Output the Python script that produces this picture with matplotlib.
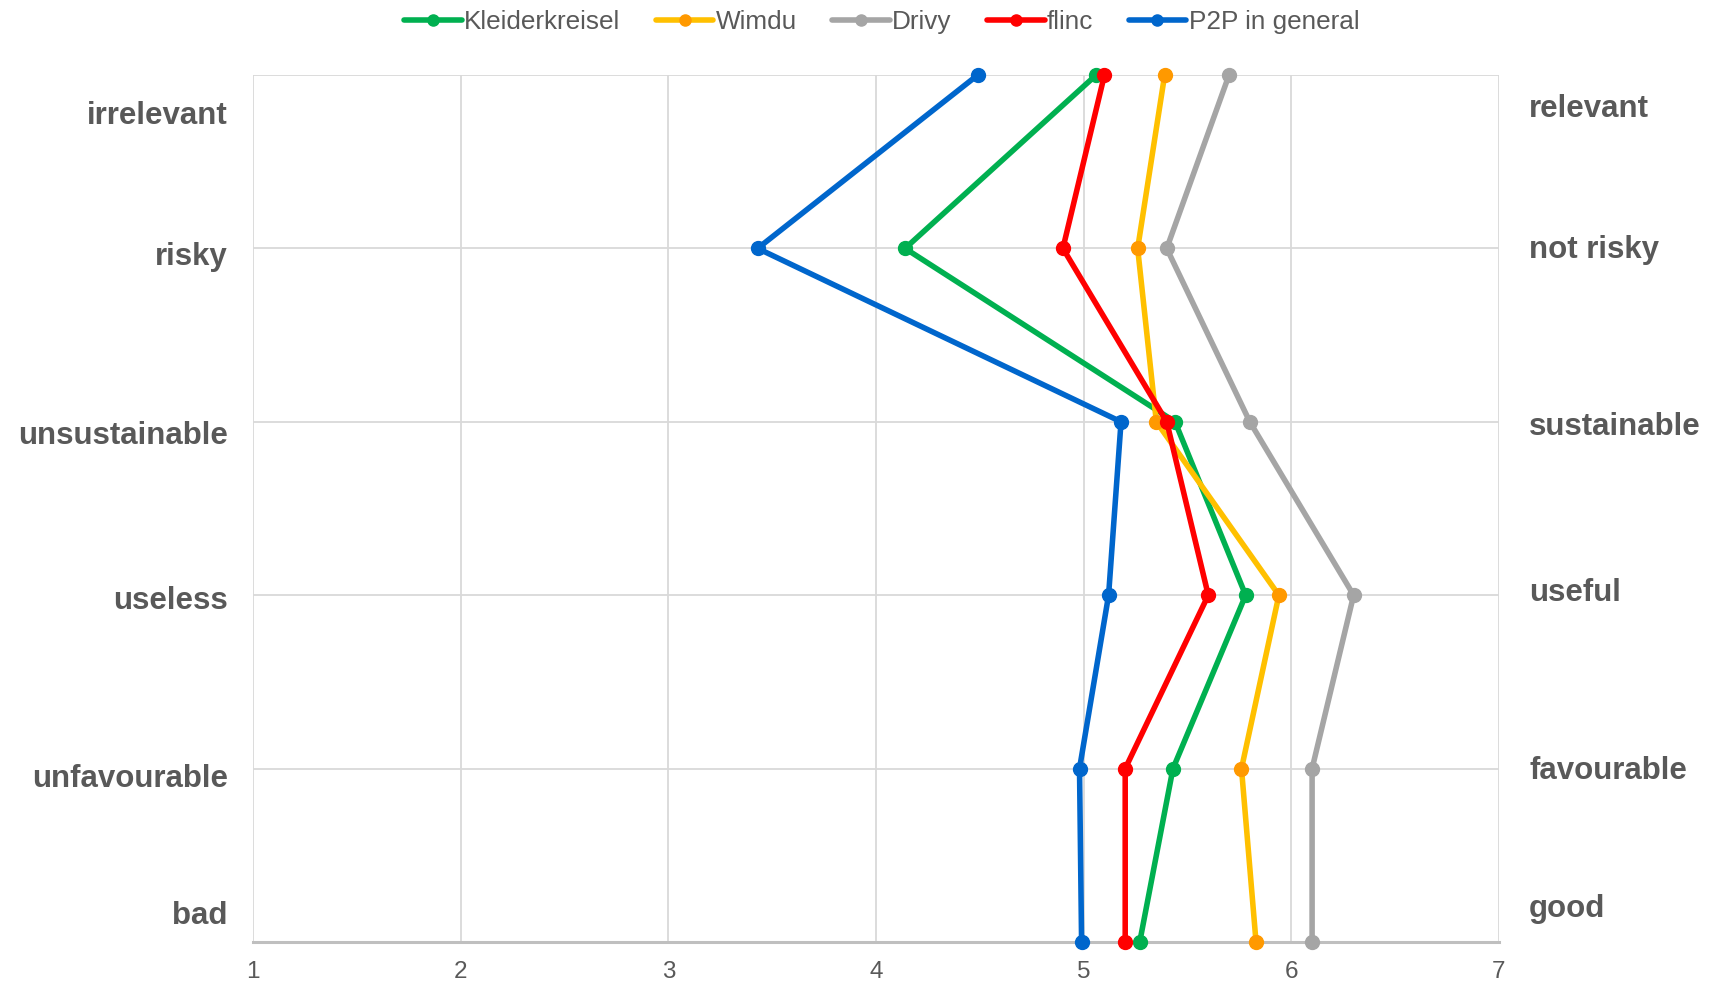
import numpy as np
import matplotlib.pyplot as plt

plt.rcParams['font.family'] = ['Liberation Sans', 'DejaVu Sans']

# semantic differential: left pole / right pole, top row first
left_terms = ["irrelevant", "risky", "unsustainable", "useless", "unfavourable", "bad"]
right_terms = ["relevant", "not risky", "sustainable", "useful", "favourable", "good"]

# mean ratings (1-7) per row, top to bottom
kleiderkreisel = [5.06, 4.14, 5.44, 5.78, 5.43, 5.27]
wimdu = [5.39, 5.26, 5.35, 5.94, 5.76, 5.83]
drivy = [5.70, 5.40, 5.80, 6.30, 6.10, 6.10]
flinc = [5.10, 4.90, 5.40, 5.60, 5.20, 5.20]
p2p_general = [4.49, 3.43, 5.18, 5.12, 4.98, 4.99]

series = [
    ("Kleiderkreisel", kleiderkreisel, "#00B050", "#00B050"),
    ("Wimdu", wimdu, "#FFC000", "#FF9900"),
    ("Drivy", drivy, "#A5A5A5", "#A5A5A5"),
    ("flinc", flinc, "#FF0000", "#FF0000"),
    ("P2P in general", p2p_general, "#0066CC", "#0066CC"),
]

fig = plt.figure(figsize=(17.09, 9.84), dpi=100)
ax = fig.add_axes([253 / 1709, 1 - 942 / 984, (1499 - 253) / 1709, (942 - 75) / 984])

rows = np.arange(len(left_terms))[::-1]  # top row gets the highest y

for name, vals, lc, mc in series:
    ax.plot(vals, rows, color=lc, lw=4, marker="o", markersize=10,
            markerfacecolor=mc, markeredgecolor=mc, label=name, zorder=3,
            solid_capstyle="round", clip_on=False)

ax.set_xlim(1, 7)
ax.set_ylim(0, 5)
ax.set_xticks(range(1, 8))
ax.set_yticks(rows)
ax.set_yticklabels([])
ax.tick_params(axis="y", length=0)
ax.tick_params(axis="x", length=0, pad=14, labelsize=17.5, labelcolor="#595959")
ax.grid(True, color="#D9D9D9", lw=1.3)
for s in ["top", "right", "left"]:
    ax.spines[s].set_visible(False)
ax.spines["bottom"].set_color("#BFBFBF")
ax.spines["bottom"].set_linewidth(2.2)
ax.set_axisbelow(True)

# pole labels on both sides
left_y = [116, 257, 436, 601, 779, 916]
right_y = [109, 250, 427, 593, 771, 909]
for term, y in zip(left_terms, left_y):
    fig.text(228 / 1709, 1 - y / 984, term, ha="right", va="center",
             fontsize=22.5, fontweight="bold", color="#595959")
for term, y in zip(right_terms, right_y):
    fig.text(1529 / 1709, 1 - y / 984, term, ha="left", va="center",
             fontsize=22.5, fontweight="bold", color="#595959")

leg = fig.legend(loc="center", bbox_to_anchor=(0.516, 1 - 22 / 984), ncol=5,
                 frameon=False, fontsize=18.8, handlelength=2.2,
                 handletextpad=0.1, columnspacing=1.35, markerscale=0.8)
for t in leg.get_texts():
    t.set_color("#595959")

fig.savefig("out.png", dpi=100)
